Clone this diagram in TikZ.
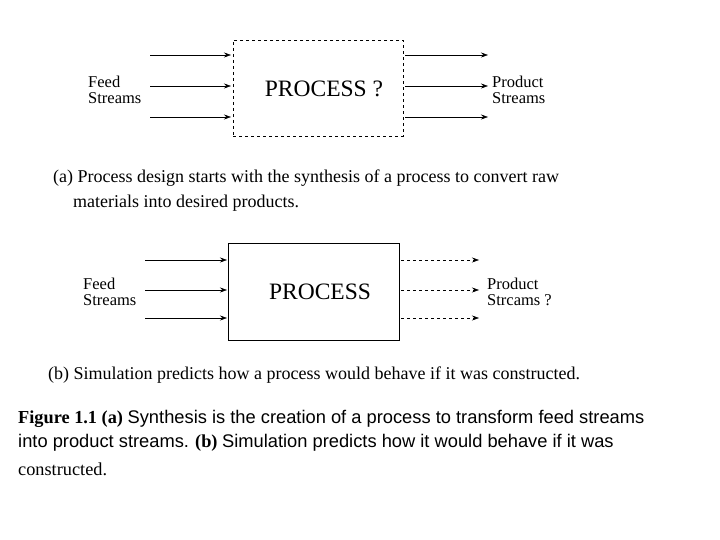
\documentclass[tikz,border=0pt]{standalone}
\usepackage{fontspec}
\setmainfont{Liberation Serif}
\newfontfamily\arialf{Liberation Sans}
\usetikzlibrary{arrows.meta}
\begin{document}
\begin{tikzpicture}[x=1pt,y=-1pt,
  arr/.style={-{Stealth[length=7pt,width=5pt]},line width=0.6pt},
  darr/.style={arr,dashed},
  lbl/.style={font=\fontsize{16.5}{15.5}\selectfont,align=left,anchor=west,inner sep=0pt},
  captext/.style={font=\fontsize{18}{18}\selectfont,anchor=west,inner sep=0pt},
  fig/.style={font=\fontsize{18.3}{18.3}\selectfont,anchor=west,inner sep=0pt}]
\useasboundingbox (0,0) rectangle (720,540);
% top
\node[draw,dashed,line width=0.8pt,minimum width=170pt,minimum height=96pt,inner sep=0pt] (p1) at (318,88) {};
\node[font=\fontsize{23.5}{23.5}\selectfont] (t1) at (324,89) {PROCESS ?};
\foreach \y [count=\i] in {55,86,117}{
  \coordinate (la\i) at (150,\y); \coordinate (lb\i) at (231,\y);
  \coordinate (ra\i) at (405,\y); \coordinate (rb\i) at (488,\y);
  \draw[arr] (la\i) -- (lb\i); \draw[arr] (ra\i) -- (rb\i);}
\node[lbl] (f1) at (88,90) {Feed\\Streams};
\node[lbl] (o1) at (492,90) {Product\\Streams};
\node[captext] (c1) at (53,178) {(a) Process design starts with the synthesis of a process to convert raw};
\node[captext] (c2) at (73,203) {materials into desired products.};
% bottom
\node[draw,line width=0.8pt,minimum width=171pt,minimum height=97pt,inner sep=0pt] (p2) at (313.5,291.5) {};
\node[font=\fontsize{23.5}{23.5}\selectfont] (t2) at (320,292) {PROCESS};
\foreach \y [count=\i] in {260,290,318}{
  \coordinate (lc\i) at (145,\y); \coordinate (ld\i) at (227,\y);
  \coordinate (rc\i) at (401,\y); \coordinate (rd\i) at (479,\y);
  \draw[arr] (lc\i) -- (ld\i); \draw[darr] (rc\i) -- (rd\i);}
\node[lbl] (f2) at (83,292) {Feed\\Streams};
\node[lbl] (o2) at (487,292) {Product\\Strcams ?};
\node[captext] (c3) at (48,375) {(b) Simulation predicts how a process would behave if it was constructed.};
% figure caption
\node[fig] (g1) at (18,419) {\textbf{Figure 1.1 (a)} {\arialf Synthesis is the creation of a process to transform feed streams}};
\node[fig] (g2) at (18,443) {{\arialf into product streams.} \textbf{(b)} {\arialf Simulation predicts how it would behave if it was}};
\node[fig] (g3) at (18,469) {constructed.};
\end{tikzpicture}
\end{document}
